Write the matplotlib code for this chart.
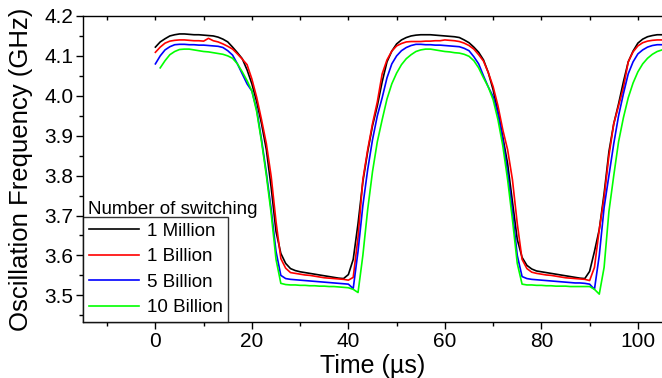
import numpy as np
import matplotlib
matplotlib.use("Agg")
import matplotlib.pyplot as plt
from matplotlib.ticker import MultipleLocator

plt.rcParams['font.family'] = ['Liberation Sans', 'DejaVu Sans']

# time axis (µs), 1 µs step
time_us = np.arange(0, 106)

f_1million = [
    4.122, 4.135, 4.143, 4.150, 4.153, 4.155, 4.155, 4.154, 4.153, 4.153,
    4.152, 4.151, 4.150, 4.147, 4.142, 4.135, 4.122, 4.108, 4.093, 4.065,
    4.030, 3.985, 3.930, 3.865, 3.770, 3.660, 3.605, 3.580, 3.567, 3.562,
    3.559, 3.557, 3.555, 3.553, 3.551, 3.549, 3.547, 3.545, 3.543, 3.542,
    3.552, 3.590, 3.680, 3.785, 3.860, 3.925, 3.975, 4.035, 4.085, 4.112,
    4.130, 4.140, 4.146, 4.150, 4.152, 4.153, 4.153, 4.153, 4.152, 4.151,
    4.150, 4.149, 4.148, 4.146, 4.140, 4.133, 4.122, 4.109, 4.090, 4.058,
    4.015, 3.960, 3.897, 3.830, 3.735, 3.640, 3.595, 3.575, 3.566, 3.561,
    3.559, 3.557, 3.555, 3.553, 3.551, 3.549, 3.547, 3.545, 3.543, 3.542,
    3.560, 3.610, 3.665, 3.755, 3.860, 3.930, 3.980, 4.035, 4.085, 4.112,
    4.132, 4.142, 4.148, 4.151, 4.153, 4.153,
]

f_1billion = [
    4.109, 4.122, 4.132, 4.137, 4.139, 4.140, 4.140, 4.139, 4.138, 4.138,
    4.137, 4.144, 4.138, 4.135, 4.130, 4.124, 4.117, 4.105, 4.092, 4.078,
    4.042, 3.996, 3.940, 3.880, 3.798, 3.685, 3.592, 3.568, 3.557, 3.555,
    3.553, 3.551, 3.550, 3.548, 3.546, 3.544, 3.543, 3.542, 3.541, 3.540,
    3.538, 3.545, 3.645, 3.790, 3.865, 3.930, 3.985, 4.055, 4.090, 4.112,
    4.125, 4.131, 4.135, 4.136, 4.136, 4.136, 4.137, 4.137, 4.138, 4.138,
    4.140, 4.139, 4.138, 4.136, 4.132, 4.126, 4.117, 4.103, 4.087, 4.058,
    4.023, 3.975, 3.915, 3.865, 3.790, 3.680, 3.590, 3.567, 3.558, 3.555,
    3.553, 3.551, 3.550, 3.548, 3.546, 3.544, 3.543, 3.542, 3.541, 3.540,
    3.537, 3.570, 3.665, 3.745, 3.850, 3.930, 3.975, 4.020, 4.085, 4.110,
    4.125, 4.133, 4.137, 4.139, 4.140, 4.140,
]

f_5billion = [
    4.080, 4.100, 4.115, 4.123, 4.128, 4.129, 4.129, 4.128, 4.128, 4.127,
    4.127, 4.126, 4.125, 4.124, 4.121, 4.113, 4.102, 4.080, 4.055, 4.030,
    4.012, 3.965, 3.890, 3.807, 3.715, 3.610, 3.550, 3.542, 3.540, 3.539,
    3.538, 3.537, 3.536, 3.535, 3.534, 3.533, 3.532, 3.531, 3.530, 3.529,
    3.528, 3.517, 3.610, 3.725, 3.815, 3.890, 3.950, 3.995, 4.045, 4.080,
    4.100, 4.113, 4.121, 4.126, 4.129, 4.129, 4.128, 4.128, 4.127, 4.127,
    4.126, 4.125, 4.124, 4.123, 4.119, 4.113, 4.098, 4.080, 4.050, 4.022,
    3.998, 3.955, 3.890, 3.807, 3.710, 3.600, 3.547, 3.542, 3.540, 3.539,
    3.538, 3.537, 3.536, 3.535, 3.534, 3.533, 3.532, 3.531, 3.531, 3.530,
    3.528, 3.515, 3.600, 3.720, 3.800, 3.880, 3.950, 4.005, 4.055, 4.085,
    4.105, 4.115, 4.122, 4.126, 4.128, 4.128,
]

f_10billion = [
    np.nan, 4.070, 4.088, 4.103, 4.111, 4.116, 4.117, 4.117, 4.115, 4.113,
    4.111, 4.110, 4.108, 4.106, 4.104, 4.100, 4.094, 4.080, 4.060, 4.038,
    4.012, 3.960, 3.885, 3.800, 3.705, 3.590, 3.530, 3.527, 3.526, 3.526,
    3.525, 3.525, 3.524, 3.524, 3.523, 3.523, 3.522, 3.522, 3.521, 3.520,
    3.519, 3.515, 3.507, 3.600, 3.715, 3.810, 3.885, 3.940, 3.992, 4.030,
    4.057, 4.078, 4.093, 4.103, 4.111, 4.115, 4.117, 4.117, 4.115, 4.113,
    4.111, 4.110, 4.108, 4.107, 4.104, 4.099, 4.088, 4.070, 4.045, 4.022,
    3.990, 3.940, 3.875, 3.790, 3.690, 3.580, 3.528, 3.526, 3.526, 3.525,
    3.525, 3.524, 3.524, 3.523, 3.523, 3.523, 3.522, 3.522, 3.522, 3.522,
    3.522, 3.515, 3.503, 3.570, 3.710, 3.800, 3.885, 3.945, 3.995, 4.032,
    4.060, 4.080, 4.094, 4.104, 4.111, 4.115,
]

labels = ['1 Million', '1 Billion', '5 Billion', '10 Billion']
colors = ['black', '#ff0000', '#0000ff', '#00ff00']

fig = plt.figure(figsize=(6.62, 3.78), dpi=100)
ax = fig.add_axes([0.1254, 0.148, 0.8746, 0.8097])

for ys, lab, c in zip([f_1million, f_1billion, f_5billion, f_10billion], labels, colors):
    ax.plot(time_us, ys, color=c, lw=1.2, label=lab)

ax.set_xlim(-15, 105)
ax.set_ylim(3.433, 4.2)
ax.xaxis.set_major_locator(MultipleLocator(20))
ax.xaxis.set_minor_locator(MultipleLocator(10))
ax.yaxis.set_major_locator(MultipleLocator(0.1))
ax.yaxis.set_minor_locator(MultipleLocator(0.05))
ax.yaxis.set_major_formatter(matplotlib.ticker.FormatStrFormatter('%.1f'))

ax.spines['right'].set_visible(False)
for s in ['left', 'bottom', 'top']:
    ax.spines[s].set_linewidth(1.0)

ax.tick_params(axis='both', which='major', direction='out', length=5, width=1,
               labelsize=15, pad=2)
ax.tick_params(axis='both', which='minor', direction='out', length=3, width=1)
ax.tick_params(axis='x', which='both', top=True)
# top ticks point inwards
for t in ax.xaxis.get_major_ticks() + ax.xaxis.get_minor_ticks():
    t.tick2line.set_markersize(3)
    t.tick2line.set_marker(matplotlib.lines.TICKDOWN)

ax.set_xlabel('Time (µs)', fontsize=18, labelpad=2)
ax.set_ylabel('Oscillation Frequency (GHz)', fontsize=18.5, labelpad=8)

leg = ax.legend(loc='lower left', bbox_to_anchor=(0, 0), borderaxespad=0,
                fontsize=13.5, frameon=True, fancybox=False, handlelength=2.7,
                handletextpad=0.4, labelspacing=0.45, borderpad=0.3)
leg.get_frame().set_edgecolor('black')
leg.get_frame().set_linewidth(1.0)
ax.text(0.008, 0.34, 'Number of switching', transform=ax.transAxes,
        fontsize=13.5, ha='left', va='bottom')

fig.savefig('out.png', dpi=100)
